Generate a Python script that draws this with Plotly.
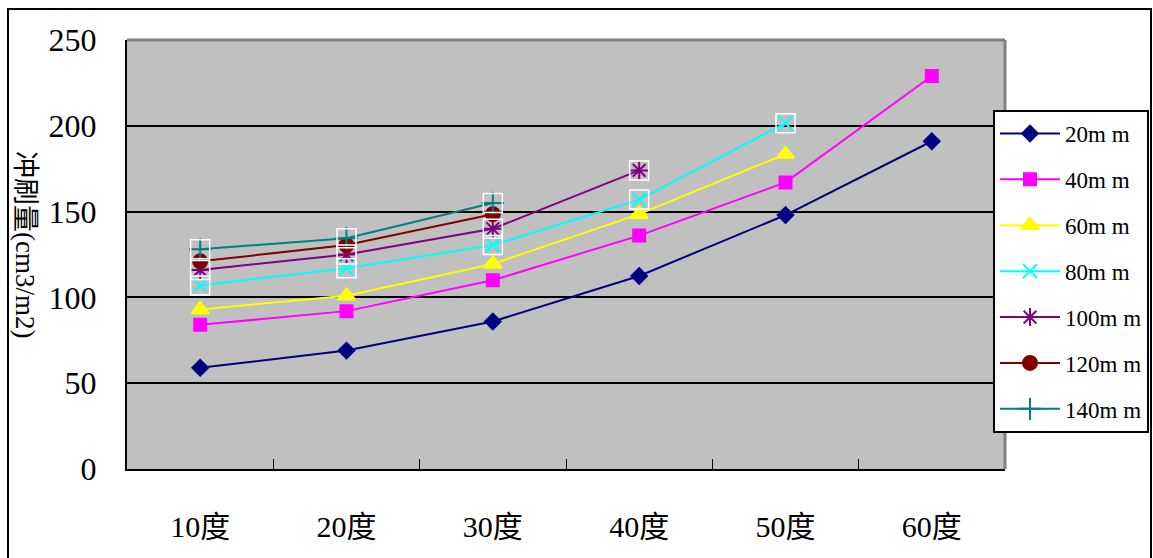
import plotly.graph_objects as go

categories = ["10度", "20度", "30度", "40度", "50度", "60度"]
series_names = ["20m m", "40m m", "60m m", "80m m", "100m m", "120m m", "140m m"]
s20 = [59, 69, 86, 112.5, 148, 191]
s40 = [84, 92, 110, 136, 167, 229]
s60 = [93, 101, 119.5, 148.5, 183.5]
s80 = [107, 117, 130.5, 157, 201.5]
s100 = [116, 125, 140, 174]
s120 = [121, 130.5, 148.5]
s140 = [128, 134.5, 155]
y_ticks = [0, 50, 100, 150, 200, 250]

values = [s20, s40, s60, s80, s100, s120, s140]
colors = ["#000080", "#FF00FF", "#FFFF00", "#00FFFF", "#800080", "#800000", "#008080"]
symbols = ["diamond", "square", "triangle-up", "x-thin-open", "asterisk-open", "circle", "cross-thin-open"]
sizes = [12, 12, 15, 14, 15, 14, 16]
boxed = [False, False, False, True, True, False, True]

FONT = "Liberation Serif, Times New Roman, Noto Sans CJK TC, serif"

fig = go.Figure()
for name, vals, c, sym, sz in zip(series_names, values, colors, symbols, sizes):
    fig.add_trace(go.Scatter(
        x=categories[:len(vals)], y=vals, name=name, mode="lines+markers",
        line=dict(color=c, width=2),
        marker=dict(symbol=sym, size=sz, color=c, line=dict(color=c, width=2)),
        legendgroup=name,
    ))
for name, vals, b in zip(series_names, values, boxed):
    if b:
        fig.add_trace(go.Scatter(
            x=categories[:len(vals)], y=vals, mode="markers", showlegend=False,
            hoverinfo="skip",
            marker=dict(symbol="square-open", size=19, color="white",
                        line=dict(color="white", width=1.5)),
        ))

fig.update_layout(
    width=1153, height=558,
    margin=dict(l=127, r=148, t=40, b=89, autoexpand=False),
    paper_bgcolor="white", plot_bgcolor="#C0C0C0",
    font=dict(family=FONT, color="black"),
    showlegend=True,
    legend=dict(
        xref="container", yref="container",
        x=1149 / 1153, y=(558 - 110) / 558, xanchor="right", yanchor="top",
        bgcolor="white", bordercolor="black", borderwidth=2,
        font=dict(family=FONT, size=23, color="black"),
        tracegroupgap=13, itemwidth=60, maxheight=440,
    ),
    xaxis=dict(
        type="category", categoryorder="array", categoryarray=categories,
        range=[-0.5, 5.5], showgrid=False, showline=True, linecolor="black", linewidth=2,
        ticks="inside", ticklen=10, tickwidth=1, tickcolor="black", tickson="boundaries",
        tickfont=dict(family=FONT, size=30), ticklabelstandoff=30,
    ),
    yaxis=dict(
        range=[0, 250], tickvals=y_ticks, showgrid=True, gridcolor="black", gridwidth=2,
        showline=True, linecolor="black", linewidth=2, zeroline=False,
        tickfont=dict(family=FONT, size=32), ticklabelstandoff=22,
    ),
    shapes=[
        dict(type="line", xref="paper", yref="paper", x0=0, x1=1, y0=1, y1=1,
             line=dict(color="#808080", width=3), layer="above"),
        dict(type="line", xref="paper", yref="paper", x0=1, x1=1, y0=0, y1=1,
             line=dict(color="#808080", width=3), layer="above"),
        dict(type="rect", xref="paper", yref="paper",
             x0=(8 - 127) / 878, x1=(1151 - 127) / 878,
             y0=(469 - 570) / 429, y1=(469 - 9) / 429,
             line=dict(color="black", width=2), layer="above"),
    ],
    annotations=[
        dict(text="冲刷量(cm3/m2)", xref="paper", yref="paper",
             x=(25 - 127) / 878, y=(469 - 244) / 429, showarrow=False,
             xanchor="center", yanchor="middle",
             textangle=90, font=dict(family=FONT, size=27, color="black")),
    ],
)

fig.write_html("out.html")
